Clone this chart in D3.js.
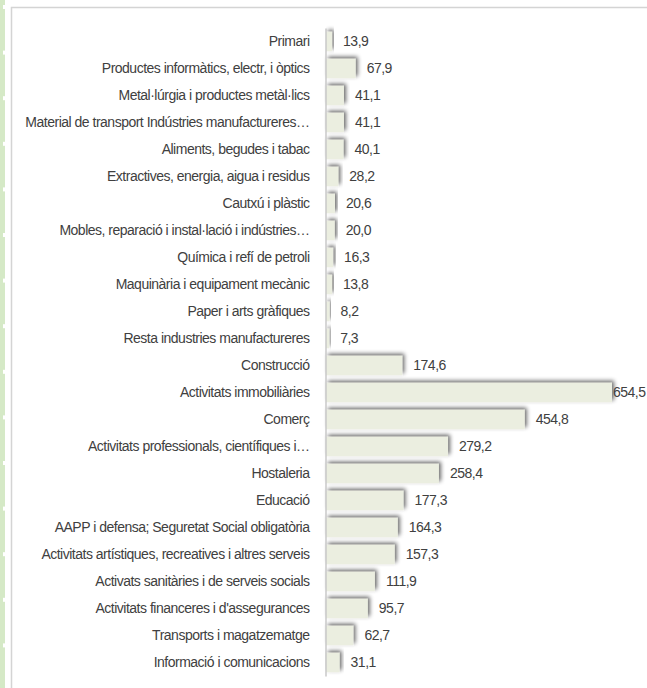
<!DOCTYPE html>
<html>
<head>
<meta charset="utf-8">
<script src="https://cdn.jsdelivr.net/npm/d3@7"></script>
<style>
	body { margin: 0; background: #fff; }
	text { font-family: "Liberation Sans", Arial, sans-serif; font-size: 14px; letter-spacing: -0.5px; fill: #404040; }
</style>
</head>
<body>
<script>

// categories (top to bottom)
let categories = [
	"Primari",
	"Productes informàtics, electr, i òptics",
	"Metal·lúrgia i productes metàl·lics",
	"Material de transport Indústries manufactureres…",
	"Aliments, begudes i tabac",
	"Extractives, energia, aigua i residus",
	"Cautxú i plàstic",
	"Mobles, reparació i instal·lació i indústries…",
	"Química i refí de petroli",
	"Maquinària i equipament mecànic",
	"Paper i arts gràfiques",
	"Resta industries manufactureres",
	"Construcció",
	"Activitats immobiliàries",
	"Comerç",
	"Activitats professionals, científiques i…",
	"Hostaleria",
	"Educació",
	"AAPP i defensa; Seguretat Social obligatòria",
	"Activitats artístiques, recreatives i altres serveis",
	"Activats sanitàries i de serveis socials",
	"Activitats financeres i d'assegurances",
	"Transports i magatzematge",
	"Informació i comunicacions"
];

let values = [13.9, 67.9, 41.1, 41.1, 40.1, 28.2, 20.6, 20.0, 16.3, 13.8, 8.2, 7.3,
	174.6, 654.5, 454.8, 279.2, 258.4, 177.3, 164.3, 157.3, 111.9, 95.7, 62.7, 31.1];

let width = 647, height = 688;

let data = categories.map(function (c, i) {
	return {name: c, value: values[i]};
});

var svg = d3.select("body").append("svg")
	.attr("width", width)
	.attr("height", height);

// green strip on the left with little white dashes
svg.append("rect")
	.attr("x", 0).attr("y", 0)
	.attr("width", 5).attr("height", height)
	.attr("fill", "#d5e9c6");
d3.range(7, height, 45.6).forEach(function (y) {
	svg.append("rect")
		.attr("x", 3).attr("y", y - 2)
		.attr("width", 2).attr("height", 4)
		.attr("fill", "#fff");
});

// frame (top + left border only)
svg.append("path")
	.attr("d", "M11.5," + height + "V7.5H" + width)
	.attr("fill", "none")
	.attr("stroke", "#d4d4d4")
	.attr("stroke-width", 1.5);

// soft drop shadow for bars (up and to the right)
var defs = svg.append("defs");
var filter = defs.append("filter")
	.attr("id", "shadow")
	.attr("x", "-20%").attr("y", "-50%")
	.attr("width", "150%").attr("height", "200%");
filter.append("feGaussianBlur").attr("in", "SourceAlpha").attr("stdDeviation", 2).attr("result", "blur");
filter.append("feOffset").attr("in", "blur").attr("dx", 2).attr("dy", -2).attr("result", "off");
filter.append("feComponentTransfer").attr("in", "off").attr("result", "soft")
	.append("feFuncA").attr("type", "linear").attr("slope", 0.6);
var merge = filter.append("feMerge");
merge.append("feMergeNode").attr("in", "soft");
merge.append("feMergeNode").attr("in", "SourceGraphic");

// scales
var x = d3.scaleLinear()
	.domain([0, d3.max(values)])
	.range([326, 612]);

var y = d3.scaleBand()
	.domain(categories)
	.range([28, 676])
	.paddingInner(0.28)
	.paddingOuter(0.14);

// bars
svg.append("g").selectAll("rect")
	.data(data)
	.enter().append("rect")
	.attr("x", x(0))
	.attr("y", function (d) { return y(d.name); })
	.attr("width", function (d) { return x(d.value) - x(0); })
	.attr("height", y.bandwidth())
	.attr("fill", "#ebeee0")
	.attr("filter", "url(#shadow)");

// y axis (line only, labels drawn separately)
var yAxis = d3.axisLeft(y).tickSize(0).tickPadding(16);
var gy = svg.append("g")
	.attr("class", "axis y-axis")
	.attr("transform", "translate(" + 325.5 + ",0)")
	.call(yAxis);
gy.select(".domain").attr("stroke", "#c8c8c8").attr("stroke-width", 1.5);
gy.selectAll("text")
	.attr("font-family", null).attr("font-size", null)
	.attr("fill", "#404040");

// value labels, comma decimals
var fmt = function (v) { return d3.format(".1f")(v).replace(".", ","); };
svg.append("g").selectAll("text")
	.data(data)
	.enter().append("text")
	.attr("y", function (d) { return y(d.name) + y.bandwidth() / 2; })
	.attr("dy", "0.35em")
	.text(function (d) { return fmt(d.value); })
	.attr("x", function (d) {
		var w = this.getComputedTextLength();
		var pos = x(d.value) + 11;
		if (pos + w > width - 2) pos = x(d.value) + 1;
		return pos;
	});

</script>
</body>
</html>
